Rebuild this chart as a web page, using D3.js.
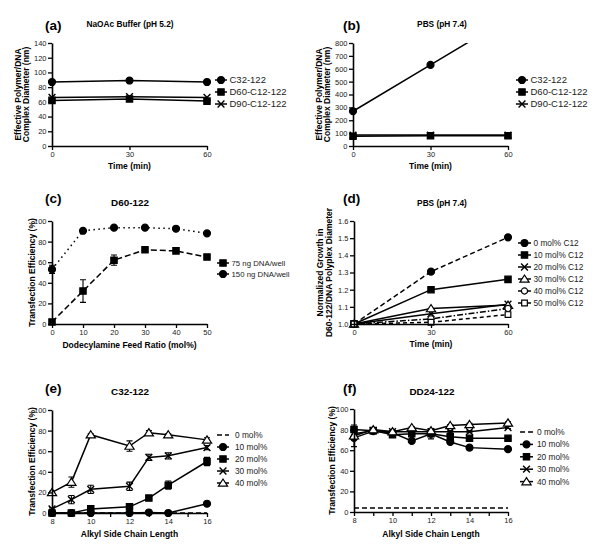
<!DOCTYPE html>
<html lang="en">
<head>
    <meta charset="UTF-8">
    <title>Polyplex size and transfection</title>
    <script type="text/javascript" src="https://cdn.jsdelivr.net/npm/d3@7/dist/d3.min.js"></script>
    <style>
        body { margin: 0; background: #fff; }
        text { font-family: "Liberation Sans", Arial, sans-serif; }
    </style>
</head>
<body>
<script type="text/javascript">
    const width = 600, height = 553;

    // data
    const timeMin = [0, 30, 60];
    const polymerNames = ['C32-122', 'D60-C12-122', 'D90-C12-122'];
    const diamNaOAc = [[87, 89, 87], [62, 64, 61], [66, 67, 66]];
    const diamPBS = [[270, 630, 990], [75, 80, 80], [85, 85, 85]];

    const feedRatio = [0, 10, 20, 30, 40, 50];
    const doseNames = ['75 ng DNA/well', '150 ng DNA/well'];
    const effD60 = [[2, 32, 62, 72, 71, 65], [53, 90.5, 93.5, 93.5, 92.5, 88]];
    const errD60 = [[0, 11, 5, 0, 0, 0], [4, 0, 0, 0, 0, 0]];

    const c12Names = ['0 mol% C12', '10 mol% C12', '20 mol% C12', '30 mol% C12', '40 mol% C12', '50 mol% C12'];
    const growth = [
        [1, 1.305, 1.505],
        [1, 1.2, 1.26],
        [1, 1.06, 1.115],
        [1, 1.09, 1.11],
        [1, 1.03, 1.09],
        [1, 1.01, 1.055]
    ];

    const molNames = ['0 mol%', '10 mol%', '20 mol%', '30 mol%', '40 mol%'];
    const chainC32 = [8, 9, 10, 12, 13, 14, 16];
    const effC32 = [
        [0, 0, 0, 0, 0, 0, 0],
        [0, 0, 0, 0, 0.5, 0, 9],
        [0, 0, 4, 6, 14.5, 27, 50],
        [4, 13, 23, 26, 54, 55.5, 63.5],
        [20, 30, 76, 65, 78, 76, 71]
    ];
    const errC32 = [
        [0, 0, 0, 0, 0, 0, 0],
        [0, 0, 0, 0, 0, 0, 2],
        [0, 0, 1, 1, 2, 4, 4],
        [1, 4, 4, 4, 3, 3, 2],
        [1, 5, 1, 5, 2, 1, 2]
    ];
    const chainDD24 = [8, 9, 10, 11, 12, 13, 14, 16];
    const effDD24 = [
        [4, 4, 4, 4, 4, 4, 4, 4],
        [72, 78.5, 77, 69, 76, 68, 62.5, 61],
        [80, 79, 75, 76, 76, 73, 71.5, 71.5],
        [76, 79, 78, 78, 78, 78, 78, 82],
        [74, 80, 78, 82, 79, 84, 85, 86.5]
    ];
    const errDD24 = [
        [0, 0, 0, 0, 0, 0, 0, 0],
        [1, 1, 1, 1, 5, 1, 2, 1],
        [1, 1, 1, 1, 1, 1, 1, 1],
        [1, 1, 1, 1, 1, 1, 1, 1],
        [10.5, 1, 1, 1, 1, 1, 1, 1]
    ];

    const svg = d3.select('body').append('svg')
        .attr('width', width)
        .attr('height', height);

    // marker shapes
    function drawMarker(g, type, cx, cy) {
        if (type === 'none') return;
        const m = g.append('path').attr('transform', 'translate(' + cx + ',' + cy + ')')
            .attr('stroke', '#000').attr('stroke-width', 1.2);
        if (type === 'circle') {
            m.attr('d', d3.symbol(d3.symbolCircle, 38)()).attr('fill', '#000');
        } else if (type === 'ocircle') {
            m.attr('d', d3.symbol(d3.symbolCircle, 30)()).attr('fill', '#fff');
        } else if (type === 'square') {
            m.attr('d', d3.symbol(d3.symbolSquare, 40)()).attr('fill', '#000');
        } else if (type === 'osquare') {
            m.attr('d', d3.symbol(d3.symbolSquare, 32)()).attr('fill', '#fff');
        } else if (type === 'otri') {
            m.attr('d', 'M0,-4L4.6,3.2L-4.6,3.2Z').attr('fill', '#fff');
        } else if (type === 'x') {
            m.attr('d', 'M-3.4,-3.4L3.4,3.4M-3.4,3.4L3.4,-3.4').attr('fill', 'none').attr('stroke-width', 1.4);
        }
    }

    function panel(cfg) {
        const x = d3.scaleLinear().domain(cfg.xDomain).range(cfg.xRange);
        const y = d3.scaleLinear().domain(cfg.yDomain).range(cfg.yRange);
        const g = svg.append('g');

        // clip region for lines running off the top
        const clipId = 'clip-' + cfg.id;
        svg.append('clipPath').attr('id', clipId).append('rect')
            .attr('x', cfg.xRange[0] - 6).attr('y', cfg.yRange[1])
            .attr('width', cfg.xRange[1] - cfg.xRange[0] + 12)
            .attr('height', cfg.yRange[0] - cfg.yRange[1] + 6);

        const line = d3.line().x(d => x(d[0])).y(d => y(d[1]));
        const plot = g.append('g').attr('clip-path', 'url(#' + clipId + ')');

        cfg.series.forEach(function (s, i) {
            const pts = cfg.xs.map((xv, j) => [xv, s[j]]);
            plot.append('path')
                .attr('d', line(pts))
                .attr('fill', 'none')
                .attr('stroke', '#000')
                .attr('stroke-width', 1.5)
                .attr('stroke-dasharray', cfg.dash[i]);
            if (cfg.errs) {
                cfg.xs.forEach(function (xv, j) {
                    const e = cfg.errs[i][j];
                    if (!e) return;
                    const px = x(xv);
                    plot.append('path')
                        .attr('d', 'M' + px + ',' + y(s[j] - e) + 'V' + y(s[j] + e) +
                            'M' + (px - 3) + ',' + y(s[j] - e) + 'H' + (px + 3) +
                            'M' + (px - 3) + ',' + y(s[j] + e) + 'H' + (px + 3))
                        .attr('stroke', '#000').attr('stroke-width', 1.1).attr('fill', 'none');
                });
            }
            pts.forEach(function (p) {
                if (p[1] <= cfg.yDomain[1]) drawMarker(plot, cfg.marks[i], x(p[0]), y(p[1]));
            });
        });

        // axes
        const yAxis = d3.axisLeft(y).tickValues(cfg.yTicks).tickSize(4).tickSizeOuter(0).tickPadding(1.5)
            .tickFormat(cfg.yFormat || d3.format('d'));
        const xAxis = d3.axisBottom(x).tickValues(cfg.xTicks).tickSize(4).tickSizeOuter(0).tickPadding(2)
            .tickFormat(cfg.xFormat || d3.format('d'));
        const ya = g.append('g').attr('transform', 'translate(' + cfg.xRange[0] + ',0)').call(yAxis);
        const xa = g.append('g').attr('transform', 'translate(0,' + cfg.yRange[0] + ')').call(xAxis);
        [ya, xa].forEach(function (a) {
            a.select('.domain').attr('stroke-width', 1.6);
            a.selectAll('.tick line').attr('stroke-width', 1.3);
            a.selectAll('.tick text').style('font-size', '7.5px').attr('fill', '#222')
                .style('font-family', '"Liberation Sans", Arial, sans-serif');
        });

        // headings
        g.append('text').attr('x', cfg.tag[0]).attr('y', cfg.tag[1])
            .style('font-size', '13.5px').style('font-weight', 'bold').text(cfg.letter);
        g.append('text').attr('x', cfg.sub[0]).attr('y', cfg.sub[1])
            .attr('text-anchor', 'middle')
            .style('font-size', cfg.subSize + 'px').style('font-weight', 'bold').text(cfg.title);

        g.append('text').attr('x', (cfg.xRange[0] + cfg.xRange[1]) / 2).attr('y', cfg.xLabelY)
            .attr('text-anchor', 'middle')
            .style('font-size', '8.5px').style('font-weight', 'bold').text(cfg.xLabel);
        const cy = (cfg.yRange[0] + cfg.yRange[1]) / 2;
        cfg.yLabel.forEach(function (t, k) {
            g.append('text')
                .attr('transform', 'translate(' + cfg.yLabelX[k] + ',' + cy + ') rotate(-90)')
                .attr('text-anchor', 'middle')
                .style('font-size', '8.5px').style('font-weight', 'bold').text(t);
        });

        // legend
        const lg = g.append('g');
        cfg.names.forEach(function (n, i) {
            const ly = cfg.leg.y + i * cfg.leg.dy;
            lg.append('line')
                .attr('x1', cfg.leg.x).attr('x2', cfg.leg.x + cfg.leg.w)
                .attr('y1', ly).attr('y2', ly)
                .attr('stroke', '#000').attr('stroke-width', 1.5)
                .attr('stroke-dasharray', cfg.legDash ? cfg.legDash[i] : cfg.dash[i]);
            drawMarker(lg, cfg.marks[i], cfg.leg.x + cfg.leg.w / 2, ly);
            lg.append('text').attr('x', cfg.leg.x + cfg.leg.w + cfg.leg.gap).attr('y', ly)
                .attr('dy', '0.35em')
                .style('font-size', cfg.leg.size + 'px').attr('fill', '#222').text(n);
        });
    }

    const diamLabel = ['Effective Polymer/DNA', 'Complex Diameter (nm)'];
    const effLabel = ['Transfection Efficiency (%)'];

    panel({
        id: 'a', letter: '(a)', title: 'NaOAc Buffer (pH 5.2)',
        tag: [45, 30], sub: [130, 27], subSize: 8.3,
        xDomain: [0, 60], xRange: [52, 207], yDomain: [0, 140], yRange: [146, 43],
        xTicks: timeMin, yTicks: d3.range(0, 141, 20),
        xs: timeMin, series: diamNaOAc, dash: [null, null, null], marks: ['circle', 'square', 'x'],
        names: polymerNames, leg: {x: 215, y: 80, dy: 12, w: 12, gap: 2.5, size: 9.5},
        xLabel: 'Time (min)', xLabelY: 169, yLabel: diamLabel, yLabelX: [21, 29]
    });

    panel({
        id: 'b', letter: '(b)', title: 'PBS (pH 7.4)',
        tag: [343, 30], sub: [442, 27], subSize: 8.3,
        xDomain: [0, 60], xRange: [353, 508], yDomain: [0, 800], yRange: [146, 43],
        xTicks: timeMin, yTicks: d3.range(0, 801, 100),
        xs: timeMin, series: diamPBS, dash: [null, null, null], marks: ['circle', 'square', 'x'],
        names: polymerNames, leg: {x: 516, y: 80, dy: 12, w: 12, gap: 2.5, size: 9.5},
        xLabel: 'Time (min)', xLabelY: 169, yLabel: diamLabel, yLabelX: [322, 330]
    });

    panel({
        id: 'c', letter: '(c)', title: 'D60-122',
        tag: [45, 203], sub: [130, 206], subSize: 9.9,
        xDomain: [0, 50], xRange: [52, 207], yDomain: [0, 100], yRange: [324, 221],
        xTicks: feedRatio, yTicks: d3.range(0, 101, 20),
        xs: feedRatio, series: effD60, errs: errD60, dash: ['6,3', '1.5,3.5'], marks: ['square', 'circle'],
        legDash: ['6,3', '3,2'],
        names: doseNames, leg: {x: 217, y: 263, dy: 11, w: 12, gap: 2.5, size: 7.8},
        xLabel: 'Dodecylamine Feed Ratio (mol%)', xLabelY: 348, yLabel: effLabel, yLabelX: [35]
    });

    panel({
        id: 'd', letter: '(d)', title: 'PBS (pH 7.4)',
        tag: [343, 203], sub: [442, 206], subSize: 8.3,
        xDomain: [0, 60], xRange: [354, 508], yDomain: [1.0, 1.6], yRange: [324, 221],
        xTicks: timeMin, yTicks: d3.range(0, 7).map(k => 1 + k / 10), yFormat: d3.format('.1f'),
        xs: timeMin, series: growth,
        dash: ['5,3', null, null, null, '6,2,1.5,2', '4,3'],
        legDash: [null, null, null, null, null, null],
        marks: ['circle', 'square', 'x', 'otri', 'ocircle', 'osquare'],
        names: c12Names, leg: {x: 518, y: 243, dy: 12, w: 13, gap: 2.5, size: 8.3},
        xLabel: 'Time (min)', xLabelY: 347, yLabel: ['Normalized Growth in', 'D60-122/DNA Polyplex Diameter'],
        yLabelX: [323, 332]
    });

    panel({
        id: 'e', letter: '(e)', title: 'C32-122',
        tag: [45, 393], sub: [130, 395], subSize: 9.9,
        xDomain: [8, 16], xRange: [52, 207], yDomain: [0, 100], yRange: [513, 410],
        xTicks: d3.range(8, 17), xFormat: d => d % 2 === 0 ? d : '', yTicks: d3.range(0, 101, 20),
        xs: chainC32, series: effC32, errs: errC32,
        dash: ['5,3', null, null, null, null], marks: ['none', 'circle', 'square', 'x', 'otri'],
        names: molNames, leg: {x: 217, y: 435, dy: 12, w: 12, gap: 6, size: 8.3},
        xLabel: 'Alkyl Side Chain Length', xLabelY: 537, yLabel: effLabel, yLabelX: [35]
    });

    panel({
        id: 'f', letter: '(f)', title: 'DD24-122',
        tag: [343, 393], sub: [432, 395], subSize: 9.9,
        xDomain: [8, 16], xRange: [354, 508], yDomain: [0, 100], yRange: [512, 409],
        xTicks: d3.range(8, 17), xFormat: d => d % 2 === 0 ? d : '', yTicks: d3.range(0, 101, 20),
        xs: chainDD24, series: effDD24, errs: errDD24,
        dash: ['5,3', null, null, null, null], marks: ['none', 'circle', 'square', 'x', 'otri'],
        names: molNames, leg: {x: 520, y: 432, dy: 12.4, w: 13, gap: 4, size: 8.3},
        xLabel: 'Alkyl Side Chain Length', xLabelY: 537, yLabel: effLabel, yLabelX: [335]
    });
</script>
</body>
</html>
